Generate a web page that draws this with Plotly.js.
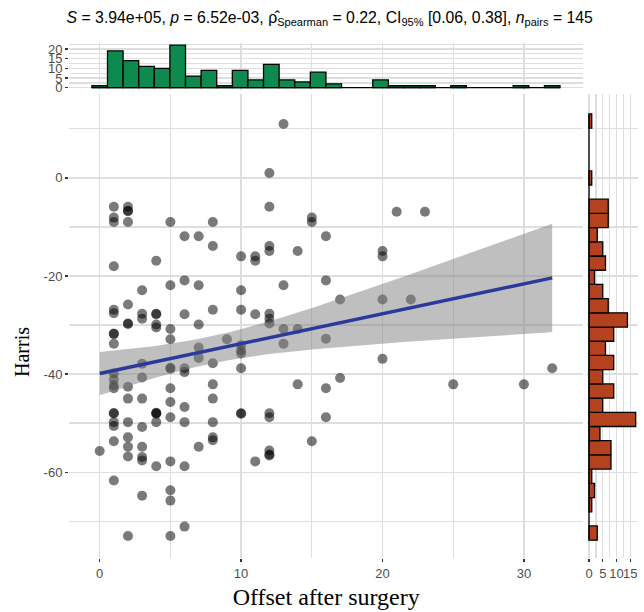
<!DOCTYPE html>
<html><head><meta charset="utf-8">
<script src="https://cdn.plot.ly/plotly-3.0.1.min.js"></script>
<style>html,body{margin:0;padding:0;background:#fff}#chart{width:644px;height:612px}</style>
</head><body><div id="chart"></div>
<script>
// ---- data ----
const offset = [
  0,
  1,1,1,1,1,1,1,1,1,1,1,1,1,1,1,1,1,1,1,
  2,2,2,2,2,2,2,2,2,2,2,2,2,2,
  3,3,3,3,3,3,3,3,3,3,3,
  4,4,4,4,4,4,4,4,4,4,
  5,5,5,5,5,5,5,5,5,5,5,5,5,
  6,6,6,6,6,6,6,6,6,
  7,7,7,7,7,7,
  8,8,8,8,8,8,8,8,8,
  9,
  10,10,10,10,10,10,10,10,10,
  11,11,11,11,
  12,12,12,12,12,12,12,12,12,12,12,12,
  13,13,13,13,
  14,14,14,
  15,15,15,
  16,16,16,16,16,
  17,17,
  20,20,20,20,
  21,22,23,25,30,32
];
const harris = [
  -55.7,
  -5.9,-8.1,-9.0,-18.0,-26.9,-27.6,-31.8,-31.8,-33.8,-39.9,-41.1,-42.3,-42.9,-48.0,-48.0,-49.8,-50.6,-53.7,-61.7,
  -5.9,-6.7,-6.8,-9.0,-25.8,-29.7,-29.8,-42.6,-45.0,-49.8,-52.9,-54.8,-56.8,-73.0,
  -22.9,-27.7,-28.7,-37.9,-40.7,-45.0,-50.8,-54.8,-56.9,-57.6,-64.8,
  -16.9,-27.7,-27.8,-29.9,-30.5,-47.9,-48.0,-48.1,-49.8,-58.8,
  -9.0,-21.9,-30.8,-32.9,-38.7,-38.9,-42.9,-45.7,-48.8,-57.8,-63.7,-65.8,-73.0,
  -11.9,-20.9,-27.8,-38.8,-39.6,-46.7,-49.8,-58.8,-71.1,
  -11.9,-21.9,-29.9,-34.6,-36.7,-54.8,
  -9.0,-13.9,-26.9,-37.8,-42.1,-45.0,-49.8,-52.9,-53.5,
  -32.9,
  -16.0,-22.9,-26.9,-34.1,-35.2,-35.8,-38.8,-48.0,-48.1,
  -16.0,-16.9,-27.8,-57.8,
  1.0,-5.9,-13.9,-14.9,-27.7,-28.7,-29.7,-48.0,-48.8,-55.6,-56.4,-56.6,
  11.0,-21.9,-30.8,-33.8,
  -14.9,-30.8,-42.1,
  -8.1,-9.0,-53.7,
  -11.9,-20.9,-32.8,-42.9,-48.8,
  -24.8,-40.8,
  -14.9,-16.0,-24.8,-36.9,
  -6.9,-24.8,-6.9,-42.1,-42.1,-38.8
];
const yTickVals = [0, -20, -40, -60];
const yTickText = ['0', '-20', '-40', '-60'];
const yMinorVals = [10, -10, -30, -50, -70];
const titleText = '<i>S</i> = 3.94e+05, <i>p</i> = 6.52e-03, ρ̂<sub>Spearman</sub> = 0.22, CI<sub>95%</sub> [0.06, 0.38], <i>n</i><sub>pairs</sub> = 145';
const xTitle = 'Offset after surgery';
const yTitle = 'Harris';
const nBins = 30;
const tCrit = 1.9766; // t(0.975, df = n - 2)

// ---- ggplot-style bins (centered on multiples of the width, right-closed) ----
function ggBins(v) {
  const mn = Math.min(...v), mx = Math.max(...v);
  const w = (mx - mn) / (nBins - 1);
  const b = w / 2;
  const shift = Math.floor((mn - b) / w);
  const origin = b + shift * w;
  const last = origin + Math.ceil((mx - origin) / w) * w;
  return {start: origin + 1e-7, end: last + 1e-7, size: w, lo: origin, hi: last};
}
const xb = ggBins(offset), yb = ggBins(harris);

// ---- linear model with 95% CI ----
const n = offset.length;
const mxv = offset.reduce((s, v) => s + v, 0) / n;
const myv = harris.reduce((s, v) => s + v, 0) / n;
let sxx = 0, sxy = 0;
for (let i = 0; i < n; i++) { sxx += (offset[i] - mxv) ** 2; sxy += (offset[i] - mxv) * (harris[i] - myv); }
const slope = sxy / sxx, icpt = myv - slope * mxv;
let sse = 0;
for (let i = 0; i < n; i++) sse += (harris[i] - icpt - slope * offset[i]) ** 2;
const sres = Math.sqrt(sse / (n - 2));
const xmin = Math.min(...offset), xmax = Math.max(...offset);
const fx = [], fy = [], lo = [], hi = [];
for (let k = 0; k < 80; k++) {
  const x = xmin + (xmax - xmin) * k / 79;
  const y = icpt + slope * x;
  const se = sres * Math.sqrt(1 / n + (x - mxv) ** 2 / sxx);
  fx.push(x); fy.push(y); lo.push(y - tCrit * se); hi.push(y + tCrit * se);
}

const gridC = '#DEDEDE';
const tickFont = {family: 'Liberation Sans, Arial, sans-serif', size: 13, color: '#4D4D4D'};

const traces = [
  {type: 'scatter', mode: 'markers', x: offset, y: harris, xaxis: 'x', yaxis: 'y',
   marker: {size: 10, color: 'rgba(0,0,0,0.52)', line: {width: 0}}, hoverinfo: 'x+y'},
  {type: 'scatter', mode: 'lines', x: fx, y: lo, xaxis: 'x', yaxis: 'y', line: {width: 0}, hoverinfo: 'skip'},
  {type: 'scatter', mode: 'lines', x: fx, y: hi, xaxis: 'x', yaxis: 'y', line: {width: 0},
   fill: 'tonexty', fillcolor: 'rgba(128,128,128,0.5)', hoverinfo: 'skip'},
  {type: 'scatter', mode: 'lines', x: fx, y: fy, xaxis: 'x', yaxis: 'y', line: {color: '#2B3A9A', width: 3.5}},
  // baselines of the marginal histograms (zero-count bins drawn flat, as ggplot does)
  {type: 'scatter', mode: 'lines', x: [xb.lo, xb.hi], y: [0, 0], xaxis: 'x2', yaxis: 'y2',
   line: {color: '#000', width: 1.3}, hoverinfo: 'skip'},
  {type: 'scatter', mode: 'lines', x: [0, 0], y: [yb.lo, yb.hi], xaxis: 'x3', yaxis: 'y3',
   line: {color: '#000', width: 1.3}, hoverinfo: 'skip'},
  {type: 'histogram', x: offset, xaxis: 'x2', yaxis: 'y2', xbins: {start: xb.start, end: xb.end, size: xb.size}, autobinx: false,
   marker: {color: '#0F8A4F', line: {color: '#000', width: 1.3}}},
  {type: 'histogram', y: harris, orientation: 'h', xaxis: 'x3', yaxis: 'y3', ybins: {start: yb.start, end: yb.end, size: yb.size}, autobiny: false,
   marker: {color: '#B5421F', line: {color: '#000', width: 1.3}}}
];

const layout = {
  width: 644, height: 612,
  margin: {l: 69, r: 6, t: 43, b: 54},
  paper_bgcolor: '#fff', plot_bgcolor: '#fff',
  showlegend: false, bargap: 0,
  title: {text: titleText, x: 0.512, xref: 'container', y: 1 - 17 / 612, yref: 'container', yanchor: 'middle',
          font: {family: 'Liberation Sans, Arial, sans-serif', size: 15.8, color: '#000'}},
  annotations: [
    {text: yTitle, xref: 'paper', yref: 'paper', x: (22 - 69) / 569, y: (558 - 352) / 515,
     xanchor: 'center', yanchor: 'middle', textangle: -90, showarrow: false,
     font: {family: 'Liberation Serif, Times New Roman, serif', size: 20, color: '#000'}}
  ],
  xaxis: {domain: [0, 0.9039], range: [-2.17, 34.2], tickmode: 'linear', tick0: 0, dtick: 10,
          ticks: 'outside', ticklen: 3, tickwidth: 1.3, tickcolor: '#333', tickfont: tickFont,
          showgrid: true, gridcolor: gridC, gridwidth: 1.3,
          minor: {tickmode: 'linear', tick0: 0, dtick: 5, showgrid: true, gridcolor: gridC, gridwidth: 1.3},
          zeroline: false, showline: false, anchor: 'y', automargin: false,
          title: {text: xTitle, font: {family: 'Liberation Serif, Times New Roman, serif', size: 24, color: '#000'}, standoff: 8}},
  yaxis: {domain: [0, 0.9019], range: [-77.5, 17.2], tickmode: 'array', tickvals: yTickVals, ticktext: yTickText,
          ticks: 'outside', ticklen: 3, tickwidth: 1.3, tickcolor: '#333', tickfont: tickFont,
          showgrid: true, gridcolor: gridC, gridwidth: 1.3,
          minor: {tickmode: 'array', tickvals: yMinorVals, showgrid: true, gridcolor: gridC, gridwidth: 1.3},
          zeroline: false, showline: false, anchor: 'x', automargin: false},
  xaxis2: {domain: [0, 0.9039], matches: 'x', anchor: 'y2', showticklabels: false, ticks: '',
           tickmode: 'linear', tick0: 0, dtick: 10,
           showgrid: true, gridcolor: gridC, gridwidth: 1.3,
           minor: {tickmode: 'linear', tick0: 0, dtick: 5, showgrid: true, gridcolor: gridC, gridwidth: 1.3},
           zeroline: false, showline: false},
  yaxis2: {domain: [0.9091, 1], range: [-1.1, 23.1], anchor: 'x2', tickmode: 'linear', tick0: 0, dtick: 5,
           ticks: 'outside', ticklen: 3, tickwidth: 1.3, tickcolor: '#333', tickfont: tickFont,
           showgrid: true, gridcolor: gridC, gridwidth: 1.3,
           minor: {tickmode: 'linear', tick0: 0, dtick: 2.5, showgrid: true, gridcolor: gridC, gridwidth: 1.3},
           zeroline: false, showline: false},
  xaxis3: {domain: [0.9098, 1], range: [-0.85, 17.85], anchor: 'y3', tickmode: 'linear', tick0: 0, dtick: 5,
           tickangle: 0, ticks: 'outside', ticklen: 3, tickwidth: 1.3, tickcolor: '#333', tickfont: tickFont,
           showgrid: true, gridcolor: gridC, gridwidth: 1.3,
           minor: {tickmode: 'linear', tick0: 0, dtick: 2.5, showgrid: true, gridcolor: gridC, gridwidth: 1.3},
           zeroline: false, showline: false},
  yaxis3: {domain: [0, 0.9019], matches: 'y', anchor: 'x3', showticklabels: false, ticks: '',
           tickmode: 'array', tickvals: yTickVals,
           showgrid: true, gridcolor: gridC, gridwidth: 1.3,
           minor: {tickmode: 'array', tickvals: yMinorVals, showgrid: true, gridcolor: gridC, gridwidth: 1.3},
           zeroline: false, showline: false}
};

Plotly.newPlot('chart', traces, layout, {displayModeBar: false, staticPlot: true});
</script>
</body></html>
